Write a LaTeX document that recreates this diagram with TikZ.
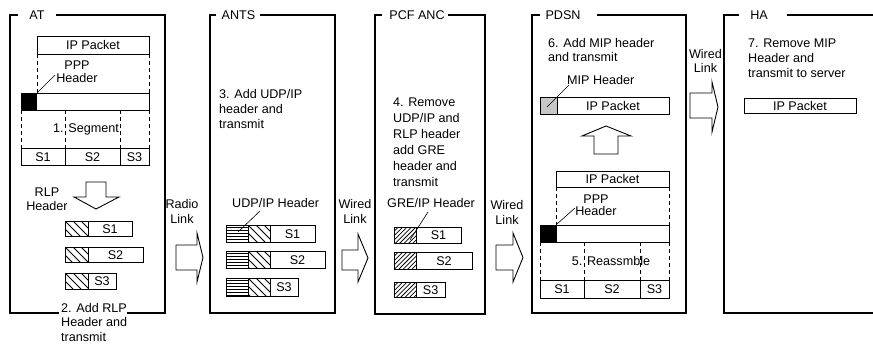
\documentclass[tikz,border=0pt]{standalone}
\usepackage{fontspec}
\setmainfont{Liberation Sans}
\newcommand\hatchback[4]{% x1 y1 x2 y2 : "\" lines
  \begin{scope}\clip (#1,#2) rectangle (#3,#4);
  \foreach \k in {0,...,8}{\draw[hl] ({#1-32+\k*8},#2) -- ++(40,40);}
  \end{scope}\draw[box] (#1,#2) rectangle (#3,#4);}
\newcommand\hatchfwd[4]{% "/" lines dense
  \begin{scope}\clip (#1,#2) rectangle (#3,#4);
  \foreach \k in {0,...,14}{\draw[hl] ({#1+\k*4.4},#2) -- ++(-30,30);}
  \end{scope}\draw[box] (#1,#2) rectangle (#3,#4);}
\newcommand\hatchhor[4]{% horizontal lines
  \begin{scope}\clip (#1,#2) rectangle (#3,#4);
  \foreach \k in {1,...,6}{\draw[hl] (#1,{#2+\k*2.85}) -- (#3,{#2+\k*2.85});}
  \end{scope}\draw[box] (#1,#2) rectangle (#3,#4);}
\begin{document}
\begin{tikzpicture}[x=1pt,y=-1pt,
  frame/.style={line width=1.1pt,line cap=rect},
  box/.style={draw,line width=0.9pt},
  dsh/.style={line width=0.8pt,dash pattern=on 4pt off 3pt},
  hl/.style={line width=0.75pt},
  lead/.style={line width=0.6pt},
  txt/.style={font=\fontsize{12.6}{16}\selectfont,inner sep=0pt},
  ttl/.style={txt,anchor=base},
  ml/.style={txt,align=left,anchor=north west},
  blk/.style={draw,line width=0.9pt,fill=white,line join=miter}]
\useasboundingbox (0,0) rectangle (873,345);

% ---------- frames ----------
\draw[frame] (17,15) -- (10,15) -- (10,313) -- (58,313);
\draw[frame] (128,313) -- (165,313) -- (165,15) -- (57,15);
\node[ttl] (tAT) at (37,19.5) {AT};

\draw[frame] (215,15) -- (210,15) -- (210,313) -- (335,313) -- (335,15) -- (261,15);
\node[ttl] (tANTS) at (238.5,19.5) {ANTS};

\draw[frame] (381,15) -- (375,15) -- (375,314) -- (485,314) -- (485,15) -- (449,15);
\node[ttl] (tPCF) at (417,19.5) {PCF ANC};

\draw[frame] (539,15) -- (532,15) -- (532,313) -- (686,313) -- (686,15) -- (598,15);
\node[ttl] (tPDSN) at (563,19.5) {PDSN};

\draw[frame] (738,15) -- (724,15) -- (724,313) -- (873,313);
\draw[frame] (788,15) -- (873,15);
\node[ttl] (tHA) at (759,19.5) {HA};

% ---------- AT ----------
\draw[box] (37,36) rectangle (149,54);
\node[txt] (ipA) at (93,45) {IP Packet};
\draw[dsh] (37,54) -- (37,93);
\draw[dsh] (149,54) -- (149,93);
\node[txt,align=center,anchor=north,font=\fontsize{12.6}{13}\selectfont] (pppA) at (77,61) {PPP\\Header};
\coordinate (lA1) at (37,93); \coordinate (lA2) at (55,75);
\draw[lead] (lA1) -- (lA2);
\fill (21,93) rectangle (37,110);
\draw[box] (21,93) rectangle (149,110);
\foreach \xx in {21,65,120,149}{\draw[dsh] (\xx,110) -- (\xx,148);}
\node[ttl] (segA) at (86,132) {1. Segment};
\draw[box] (21,148) rectangle (65,165);
\draw[box] (65,148) rectangle (120,165);
\draw[box] (120,148) rectangle (149,165);
\node[ttl] (sA1) at (43,161) {S1};
\node[ttl] (sA2) at (92.5,161) {S2};
\node[ttl] (sA3) at (134.5,161) {S3};

\draw[blk] (86,182) -- (106,182) -- (106,197) -- (119,197) -- (96,209) -- (74,197) -- (86,197) -- cycle;
\node[txt,align=center,anchor=north,font=\fontsize{12.6}{14}\selectfont] (rlpA) at (47,188) {RLP\\Header};

\hatchback{65}{221}{88}{236}
\draw[box] (88,221) rectangle (132,236);
\node[ttl] (pA1) at (110,233) {S1};
\hatchback{65}{247}{88}{262}
\draw[box] (88,247) rectangle (143,262);
\node[ttl] (pA2) at (115.5,259) {S2};
\hatchback{65}{273}{88}{289}
\draw[box] (88,273) rectangle (116,289);
\node[ttl] (pA3) at (102,285.5) {S3};
\node[ml,font=\fontsize{12.6}{14.5}\selectfont] (st2) at (61,302.7) {2. Add RLP\\Header and\\transmit};

% Radio link
\node[txt,align=center,anchor=north,font=\fontsize{12.6}{15}\selectfont] (radio) at (182,198.7) {Radio\\Link};
\draw[blk] (176,245) -- (197,245) -- (197,233) -- (203,257.5) -- (197,282) -- (197,270) -- (176,270) -- cycle;

% ---------- ANTS ----------
\node[ml,font=\fontsize{12.6}{15}\selectfont] (st3) at (219,89) {3. Add UDP/IP\\header and\\transmit};
\node[txt,anchor=base west] (udpA) at (232,207.3) {UDP/IP Header};
\hatchhor{226}{225}{248}{242}
\hatchback{248}{225}{270}{242}
\draw[box] (270,225) rectangle (315,242);
\node[ttl] (pB1) at (292.5,238) {S1};
\hatchhor{226}{251}{248}{268.5}
\hatchback{248}{251}{270}{268.5}
\draw[box] (270,251) rectangle (325,268.5);
\node[ttl] (pB2) at (297.5,264.3) {S2};
\hatchhor{226}{278}{248}{296}
\hatchback{248}{278}{270}{296}
\draw[box] (270,278) rectangle (298,296);
\node[ttl] (pB3) at (284,291.5) {S3};
\coordinate (lB1) at (238,232); \coordinate (lB2) at (260,211);
\draw[lead] (lB1) -- (lB2);

% Wired link 1
\node[txt,align=center,anchor=north,font=\fontsize{12.6}{15}\selectfont] (wired1) at (355,198.7) {Wired\\Link};
\draw[blk] (342,250) -- (358,250) -- (358,234) -- (368,258) -- (358,282) -- (358,270) -- (342,270) -- cycle;

% ---------- PCF ANC ----------
\node[ml,font=\fontsize{12.6}{16.1}\selectfont] (st4) at (393,97.5) {4. Remove\\UDP/IP and\\RLP header\\add GRE\\header and\\transmit};
\node[txt,anchor=base west] (greA) at (387,207.5) {GRE/IP Header};
\hatchfwd{394}{227}{416}{243.5}
\draw[box] (416,227) rectangle (461,243.5);
\node[ttl] (pC1) at (438.5,239.8) {S1};
\hatchfwd{394}{252}{416}{269}
\draw[box] (416,252) rectangle (472,269);
\node[ttl] (pC2) at (444,265) {S2};
\hatchfwd{394}{282}{416}{297.5}
\draw[box] (416,282) rectangle (445.5,297.5);
\node[ttl] (pC3) at (430.7,294) {S3};
\coordinate (lC1) at (410,240); \coordinate (lC2) at (428,212);
\draw[lead] (lC1) -- (lC2);

% Wired link 2
\node[txt,align=center,anchor=north,font=\fontsize{12.6}{15}\selectfont] (wired2) at (507,200.5) {Wired\\Link};
\draw[blk] (496,245) -- (513,245) -- (513,233) -- (523,257.5) -- (513,282) -- (513,270) -- (496,270) -- cycle;

% ---------- PDSN ----------
\node[ml,font=\fontsize{12.6}{14}\selectfont] (st6) at (548,37.7) {6. Add MIP header\\and transmit};
\node[txt,anchor=base west] (mipA) at (567,84.3) {MIP Header};
\fill[black!22] (540,97) rectangle (557,114);
\draw[box] (540,97) rectangle (557,114);
\draw[box] (557,97) rectangle (669,114);
\node[txt] (ipD1) at (613,105.5) {IP Packet};
\coordinate (lD1) at (547,107); \coordinate (lD2) at (569,85);
\draw[lead] (lD1) -- (lD2);
\draw[blk] (606,126) -- (631,136) -- (618,136) -- (618,154) -- (594,154) -- (594,136) -- (582,136) -- cycle;

\draw[box] (556,171) rectangle (669,187);
\node[txt] (ipD2) at (612.5,179) {IP Packet};
\draw[dsh] (556,187) -- (556,225);
\draw[dsh] (669,187) -- (669,225);
\node[txt,align=center,anchor=north,font=\fontsize{12.6}{12.7}\selectfont] (pppD) at (596,194.3) {PPP\\Header};
\coordinate (lE1) at (557,224); \coordinate (lE2) at (575,208);
\draw[lead] (lE1) -- (lE2);
\fill (540,225) rectangle (557,242);
\draw[box] (540,225) rectangle (669,242);
\foreach \xx in {540,584,640,669}{\draw[dsh] (\xx,242) -- (\xx,280);}
\node[ttl] (reas) at (611,265) {5. Reassmble};
\draw[box] (540,280) rectangle (584,298);
\draw[box] (584,280) rectangle (640,298);
\draw[box] (640,280) rectangle (669,298);
\node[ttl] (sD1) at (562,293.5) {S1};
\node[ttl] (sD2) at (612,293.5) {S2};
\node[ttl] (sD3) at (654.5,293.5) {S3};

% Wired link 3
\node[txt,align=center,anchor=north,font=\fontsize{12.6}{14}\selectfont] (wired3) at (705.5,49.5) {Wired\\Link};
\draw[blk] (690,93) -- (712,93) -- (712,82) -- (718,107) -- (712,132) -- (712,118) -- (690,118) -- cycle;

% ---------- HA ----------
\node[ml,font=\fontsize{12.6}{15}\selectfont] (st7) at (748,39) {7. Remove MIP\\Header and\\transmit to server};
\draw[box] (744,98) rectangle (856,113);
\node[txt] (ipH) at (800,105.5) {IP Packet};
\end{tikzpicture}
\end{document}
